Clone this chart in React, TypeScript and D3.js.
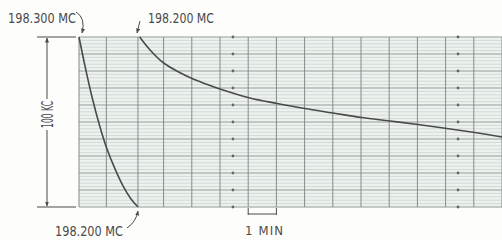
import React from 'react';
import * as d3 from 'd3';

// Time in minutes, frequency in kc above 198.200 MC
const gridMinutes = [0, 0.97, 2.09, 3, 4, 5, 6, 7, 8, 9, 10, 11, 12, 13, 14, 15];
const dotMinutes = [5.46, 13.44];
const majorKc = [0, 10, 20, 30, 40, 50, 60, 70, 80, 90, 100];
const minorKc = d3.range(0, 101, 2);

const sweepDownT = [0, 0.213, 0.461, 0.745, 0.993, 1.277, 1.56, 1.844, 2.092];
const sweepDownF = [100, 82.9, 64.7, 47.1, 34.1, 22.4, 12.4, 4.7, 0];

const recoveryT = [2.15, 2.52, 2.98, 3.5, 4.01, 4.5, 5.0, 6.06, 7.02, 8.01, 9.01, 10.04, 11.03, 12.02, 13.05, 14.04, 15.0];
const recoveryF = [100, 92.4, 85.0, 79.7, 75.6, 72.4, 69.4, 64.1, 60.9, 57.9, 55.3, 52.6, 50.6, 48.5, 46.2, 43.8, 41.2];

const labelTop1 = '198.300 MC';
const labelTop2 = '198.200 MC';
const labelBottom = '198.200 MC';
const labelSpan = '100 KC';
const labelTime = '1 MIN';

const W = 502;
const H = 240;
const x = d3.scaleLinear().domain([0, 15]).range([79, 502]);
const y = d3.scaleLinear().domain([0, 100]).range([207, 37]);

const font = "'DejaVu Sans Condensed', 'Liberation Sans Narrow', 'DejaVu Sans', sans-serif";
const ink = '#4a4a4a';

export default function App() {
  const line = d3
    .line<[number, number]>()
    .x((d) => x(d[0]))
    .y((d) => y(d[1]))
    .curve(d3.curveCatmullRom.alpha(0.5));
  const down = line(sweepDownT.map((t, i) => [t, sweepDownF[i]] as [number, number])) || '';
  const rec = line(recoveryT.map((t, i) => [t, recoveryF[i]] as [number, number])) || '';
  const [x0, x1] = x.range();
  const [yb, yt] = y.range();
  const midY = (y(100) + y(0)) / 2 - 7.5;

  return (
    <svg
      width={W}
      height={H}
      viewBox={`0 0 ${W} ${H}`}
      style={{ position: 'absolute', left: 0, top: 0, background: '#fdfdfb' }}
    >
      <defs>
        <marker id="ah" viewBox="0 0 10 10" refX="9" refY="5" markerWidth="5" markerHeight="5" orient="auto-start-reverse">
          <path d="M0,1 L10,5 L0,9 z" fill={ink} />
        </marker>
      </defs>
      <rect x={x0} y={yt} width={x1 - x0} height={yb - yt} fill="#eef2ef" />
      {minorKc.map((k) => (
        <line key={'mn' + k} x1={x0} x2={x1} y1={y(k)} y2={y(k)} stroke="#c6d0cb" strokeWidth={0.7} />
      ))}
      {majorKc.map((k) => (
        <line key={'mj' + k} x1={x0} x2={x1} y1={y(k)} y2={y(k)} stroke="#9aa39f" strokeWidth={0.9} />
      ))}
      {gridMinutes.map((m) => (
        <line key={'v' + m} x1={x(m)} x2={x(m)} y1={yt} y2={yb} stroke="#848c88" strokeWidth={1} />
      ))}
      {dotMinutes.map((m) =>
        majorKc.map((k) => (
          <circle key={'d' + m + '-' + k} cx={x(m)} cy={y(k)} r={1.4} fill="#666" />
        ))
      )}
      <path d={down} fill="none" stroke={ink} strokeWidth={1.6} />
      <path d={rec} fill="none" stroke={ink} strokeWidth={1.6} />

      {/* 100 KC dimension */}
      <line x1={37} x2={76} y1={y(100)} y2={y(100)} stroke={ink} strokeWidth={1} />
      <line x1={37} x2={76} y1={y(0)} y2={y(0)} stroke={ink} strokeWidth={1} />
      <line x1={47} x2={47} y1={99} y2={y(100) + 1} stroke={ink} strokeWidth={1} markerEnd="url(#ah)" />
      <line x1={47} x2={47} y1={130} y2={y(0) - 1} stroke={ink} strokeWidth={1} markerEnd="url(#ah)" />
      <text
        x={0}
        y={0}
        transform={`translate(52.5,${midY}) rotate(-90)`}
        textAnchor="middle"
        fontFamily={font}
        fontSize={15}
        fill={ink}
        textLength={27}
        lengthAdjust="spacingAndGlyphs"
      >
        {labelSpan}
      </text>

      {/* Frequency labels */}
      <text x={8} y={23} fontFamily={font} fontSize={14} fill={ink} textLength={68} lengthAdjust="spacingAndGlyphs">
        {labelTop1}
      </text>
      <path d="M76,12 Q86,18 82,33" fill="none" stroke={ink} strokeWidth={1} markerEnd="url(#ah)" />
      <text x={148} y={23} fontFamily={font} fontSize={14} fill={ink} textLength={66} lengthAdjust="spacingAndGlyphs">
        {labelTop2}
      </text>
      <path d="M140,21 L137,33" fill="none" stroke={ink} strokeWidth={1} markerEnd="url(#ah)" />
      <text x={55} y={236} fontFamily={font} fontSize={14} fill={ink} textLength={68} lengthAdjust="spacingAndGlyphs">
        {labelBottom}
      </text>
      <path d="M127,228 Q136,222 138,211" fill="none" stroke={ink} strokeWidth={1} markerEnd="url(#ah)" />

      {/* 1 MIN bracket */}
      <line x1={x(6)} x2={x(6)} y1={208} y2={215} stroke={ink} strokeWidth={1} />
      <line x1={x(7)} x2={x(7)} y1={208} y2={215} stroke={ink} strokeWidth={1} />
      <line x1={x(6)} x2={x(7)} y1={214} y2={214} stroke={ink} strokeWidth={1} />
      <text x={245} y={235} fontFamily={font} fontSize={13} fill={ink} textLength={38} lengthAdjust="spacing">
        {labelTime}
      </text>
    </svg>
  );
}
